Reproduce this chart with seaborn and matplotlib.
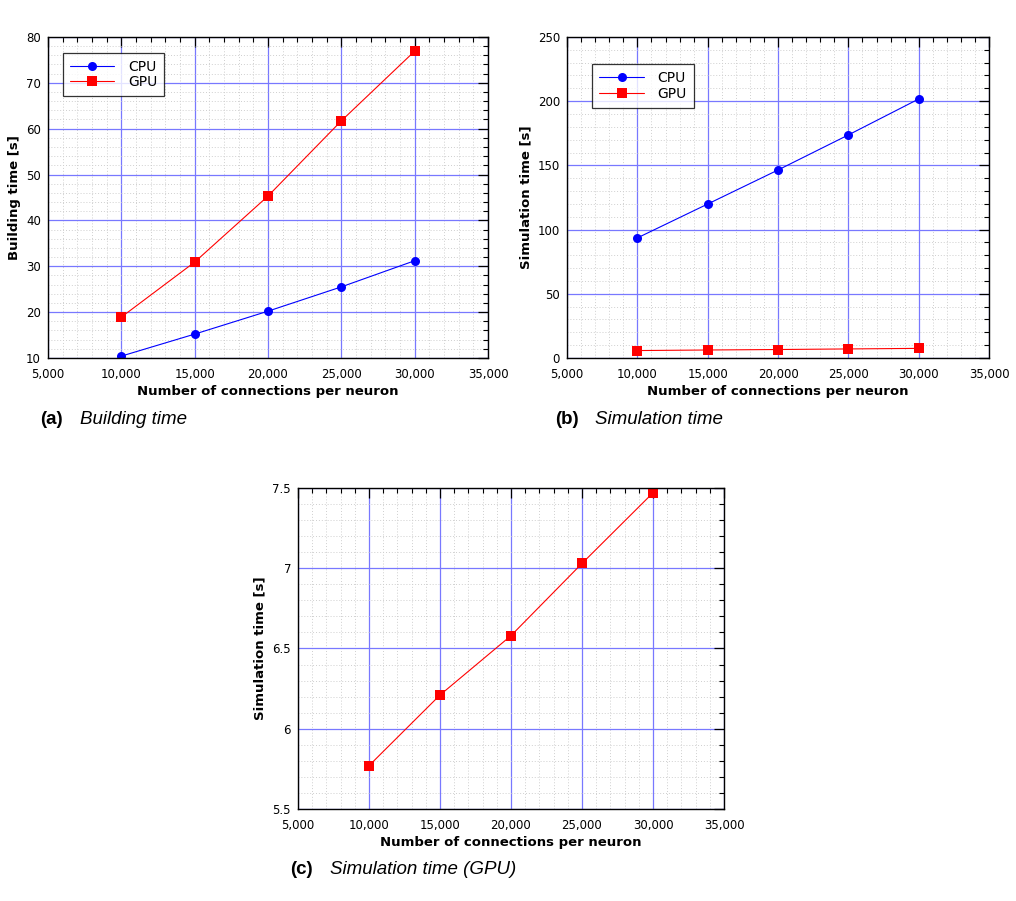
import numpy as np
import pandas as pd
import matplotlib
matplotlib.use('Agg')
import matplotlib.pyplot as plt
import seaborn as sns
from matplotlib.ticker import MultipleLocator, FuncFormatter

# data
connections = [10000, 15000, 20000, 25000, 30000]
build_cpu = [10.4, 15.2, 20.2, 25.5, 31.2]
build_gpu = [18.9, 30.9, 45.3, 61.7, 76.9]
sim_cpu = [93.5, 119.9, 146.4, 173.7, 201.7]
sim_gpu = [5.77, 6.21, 6.58, 7.03, 7.47]

sns.set_style('white')
plt.rcParams['font.family'] = ['DejaVu Sans']
plt.rcParams['text.color'] = 'black'
plt.rcParams['axes.labelcolor'] = 'black'
plt.rcParams['xtick.color'] = 'black'
plt.rcParams['ytick.color'] = 'black'

fig = plt.figure(figsize=(10.16, 9.01), dpi=100)

ax_a = fig.add_axes([0.0472, 0.6027, 0.4331, 0.3563])
ax_b = fig.add_axes([0.5581, 0.6027, 0.4154, 0.3563])
ax_c = fig.add_axes([0.2933, 0.1021, 0.4193, 0.3563])


def style_axes(ax, ylim, ymajor, yminor, ylabel):
    ax.set_xlim(5000, 35000)
    ax.set_ylim(*ylim)
    ax.xaxis.set_major_locator(MultipleLocator(5000))
    ax.xaxis.set_minor_locator(MultipleLocator(1000))
    ax.yaxis.set_major_locator(MultipleLocator(ymajor))
    ax.yaxis.set_minor_locator(MultipleLocator(yminor))
    ax.xaxis.set_major_formatter(FuncFormatter(lambda v, p: f'{int(v):,}'))
    ax.yaxis.set_major_formatter(FuncFormatter(lambda v, p: f'{v:g}'))
    ax.grid(which='major', color='#7878ff', linewidth=0.9, linestyle='-')
    ax.grid(which='minor', color='#cfcfcf', linewidth=0.7, linestyle=(0, (1, 2)))
    ax.set_axisbelow(True)
    ax.tick_params(which='both', direction='in', top=True, right=True,
                   labelsize=8.5, colors='black')
    ax.tick_params(axis='x', pad=7)
    ax.tick_params(axis='y', pad=5)
    ax.tick_params(which='major', length=7, width=0.9)
    ax.tick_params(which='minor', length=3.5, width=0.8)
    for s in ax.spines.values():
        s.set_color('black')
        s.set_linewidth(1.0)
    ax.set_xlabel('Number of connections per neuron', fontsize=9.5,
                  fontweight='bold', labelpad=3, color='black')
    ax.set_ylabel(ylabel, fontsize=9.5, fontweight='bold', labelpad=4,
                  color='black')


# (a) building time
sns.lineplot(x=connections, y=build_cpu, ax=ax_a, color='blue', marker='o',
             markersize=6.5, markeredgewidth=0, linewidth=0.8, label='CPU')
sns.lineplot(x=connections, y=build_gpu, ax=ax_a, color='red', marker='s',
             markersize=6.5, markeredgewidth=0, linewidth=0.8, label='GPU')
style_axes(ax_a, (10, 80), 10, 2, 'Building time [s]')
leg = ax_a.legend(loc='upper left', bbox_to_anchor=(0.034, 0.95), fontsize=10,
                  frameon=True, fancybox=False, edgecolor='black',
                  handlelength=3.2, borderpad=0.5, labelspacing=0.1,
                  handletextpad=1.0, borderaxespad=0, labelcolor='black')
leg.get_frame().set_linewidth(0.9)

# (b) simulation time
sns.lineplot(x=connections, y=sim_cpu, ax=ax_b, color='blue', marker='o',
             markersize=6.5, markeredgewidth=0, linewidth=0.8, label='CPU')
sns.lineplot(x=connections, y=sim_gpu, ax=ax_b, color='red', marker='s',
             markersize=6.5, markeredgewidth=0, linewidth=0.8, label='GPU')
style_axes(ax_b, (0, 250), 50, 10, 'Simulation time [s]')
leg = ax_b.legend(loc='upper left', bbox_to_anchor=(0.06, 0.915), fontsize=10,
                  frameon=True, fancybox=False, edgecolor='black',
                  handlelength=3.2, borderpad=0.5, labelspacing=0.1,
                  handletextpad=1.0, borderaxespad=0, labelcolor='black')
leg.get_frame().set_linewidth(0.9)

# (c) simulation time GPU only
sns.lineplot(x=connections, y=sim_gpu, ax=ax_c, color='red', marker='s',
             markersize=6.5, markeredgewidth=0, linewidth=0.8)
style_axes(ax_c, (5.5, 7.5), 0.5, 0.1, 'Simulation time [s]')

# captions
cap = dict(fontsize=13.5, va='center', color='black',
           family=['Liberation Sans', 'DejaVu Sans'])
fig.text(40 / 1016, 1 - 419 / 901, '(a)', fontweight='bold', **cap)
fig.text(80 / 1016, 1 - 419 / 901, 'Building time', style='italic', **cap)
fig.text(555 / 1016, 1 - 419 / 901, '(b)', fontweight='bold', **cap)
fig.text(595 / 1016, 1 - 419 / 901, 'Simulation time', style='italic', **cap)
fig.text(290 / 1016, 1 - 869 / 901, '(c)', fontweight='bold', **cap)
fig.text(330 / 1016, 1 - 869 / 901, 'Simulation time (GPU)', style='italic', **cap)

fig.savefig('out.png', dpi=100, facecolor='white')
